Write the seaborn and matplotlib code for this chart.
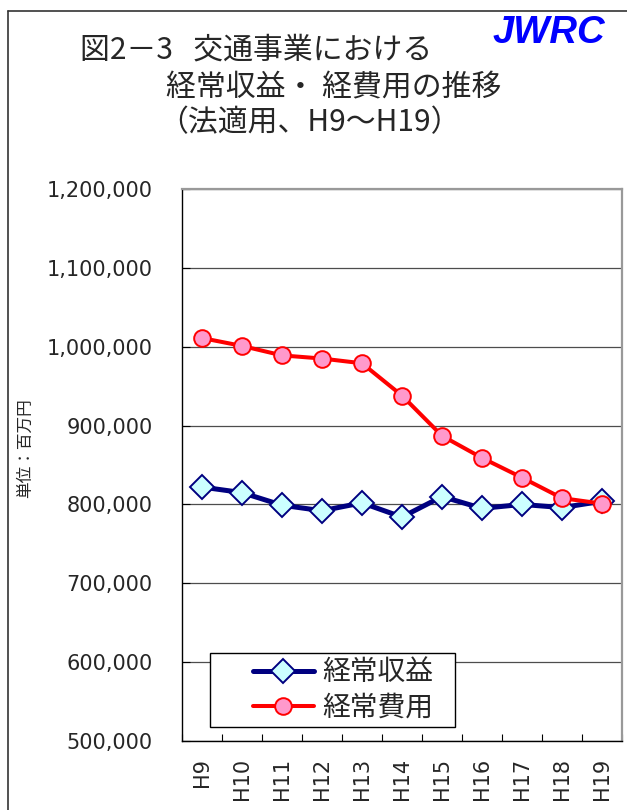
import numpy as np
import pandas as pd
import matplotlib
matplotlib.use("Agg")
import matplotlib.pyplot as plt
from matplotlib.lines import Line2D
from matplotlib.patches import Rectangle
import seaborn as sns

# data (百万円)
years = ["H9", "H10", "H11", "H12", "H13", "H14", "H15", "H16", "H17", "H18", "H19"]
revenue = [822000, 815000, 799000, 792000, 802000, 784000, 810000, 795000, 800000, 796000, 804000]
expense = [1011000, 1001000, 989000, 985000, 979000, 938000, 887000, 859000, 834000, 808000, 801000]
yticks = [500000, 600000, 700000, 800000, 900000, 1000000, 1100000, 1200000]

sns.set_theme(style="white")
JP = ["Noto Sans CJK JP", "DejaVu Sans"]
plt.rcParams["font.family"] = ["DejaVu Sans", "Noto Sans CJK JP"]

df = pd.DataFrame({"pos": np.arange(len(years)), "year": years,
                   "revenue": revenue, "expense": expense})

fig = plt.figure(figsize=(6.27, 8.10), dpi=100)
ax = fig.add_axes([182 / 627, 1 - 741 / 810, 440 / 627, 552 / 810])

sns.lineplot(data=df, x="pos", y="revenue", ax=ax, sort=False,
             color="#000080", lw=3.6, marker="D", markersize=12,
             markerfacecolor="#CCFFFF", markeredgecolor="#000080",
             markeredgewidth=1.4, label="経常収益", zorder=4)
sns.lineplot(data=df, x="pos", y="expense", ax=ax, sort=False,
             color="#FF0000", lw=2.9, marker="o", markersize=12,
             markerfacecolor="#FF99CC", markeredgecolor="#FF0000",
             markeredgewidth=1.4, label="経常費用", zorder=5)

ax.set_xlim(-0.5, len(years) - 0.5)
ax.set_ylim(500000, 1200000)
ax.set_yticks(yticks)
ax.set_yticklabels([f"{v:,}" for v in yticks], fontsize=15)
ax.yaxis.grid(True, color="#4d4d4d", lw=0.9)
ax.set_axisbelow(True)

ax.set_xticks(df["pos"])
ax.set_xticklabels(years, rotation=90, fontsize=15)
ax.set_xticks(np.arange(len(years) + 1) - 0.5, minor=True)
ax.tick_params(axis="x", which="major", length=0, pad=12)
ax.tick_params(axis="x", which="minor", direction="in", length=5, width=0.8,
               color="black", bottom=True)
ax.tick_params(axis="y", direction="in", length=5.5, width=0.8, color="black",
               left=True, pad=21)
ax.set_xlabel("")
ax.set_ylabel("")

for side in ["left", "bottom"]:
    ax.spines[side].set_color("black")
    ax.spines[side].set_linewidth(1.0)
for side in ["top", "right"]:
    ax.spines[side].set_color("#999999")
    ax.spines[side].set_linewidth(1.6)

# legend: frame drawn separately to match the wide left padding
ax.get_legend().remove()
ax.add_patch(Rectangle(((210 - 182) / 440, (741 - 727) / 552),
                       245 / 440, 74 / 552, transform=ax.transAxes,
                       facecolor="white", edgecolor="black", lw=1.0, zorder=6))
handles, labels = ax.get_legend_handles_labels()
leg = ax.legend(handles, labels, loc="center left",
                bbox_to_anchor=((239 - 182) / 440, (741 - 690) / 552),
                frameon=False, borderpad=0, handlelength=2.2,
                handletextpad=0.3, labelspacing=0.2,
                prop={"family": JP, "size": 20})
leg.set_zorder(7)

# titles
fig.text(80 / 627, 1 - 50 / 810, "図2－3   交通事業における", family=JP,
         fontsize=21.5, ha="left", va="center")
fig.text(166 / 627, 1 - 88 / 810, "経常収益・ 経費用の推移", family=JP,
         fontsize=21.5, ha="left", va="center")
fig.text(158 / 627, 1 - 123 / 810, "（法適用、H9～H19）", family=JP,
         fontsize=21.5, ha="left", va="center")
fig.text(493 / 627, 1 - 33 / 810, "JWRC", family="Liberation Sans",
         fontsize=27.5, fontweight="bold", fontstyle="italic", color="#0000FF",
         ha="left", va="center")
fig.text(25 / 627, 1 - 448 / 810, "単位：百万円", family=JP, fontsize=12,
         rotation=90, ha="center", va="center")

# outer border of the chart area
fig.add_artist(Line2D([8 / 627, 8 / 627], [-0.1, 1 - 11 / 810],
                      transform=fig.transFigure, color="#333333", lw=1.2))
fig.add_artist(Line2D([8 / 627, 1.1], [1 - 11 / 810, 1 - 11 / 810],
                      transform=fig.transFigure, color="#333333", lw=1.2))

fig.savefig("out.png", dpi=100)
